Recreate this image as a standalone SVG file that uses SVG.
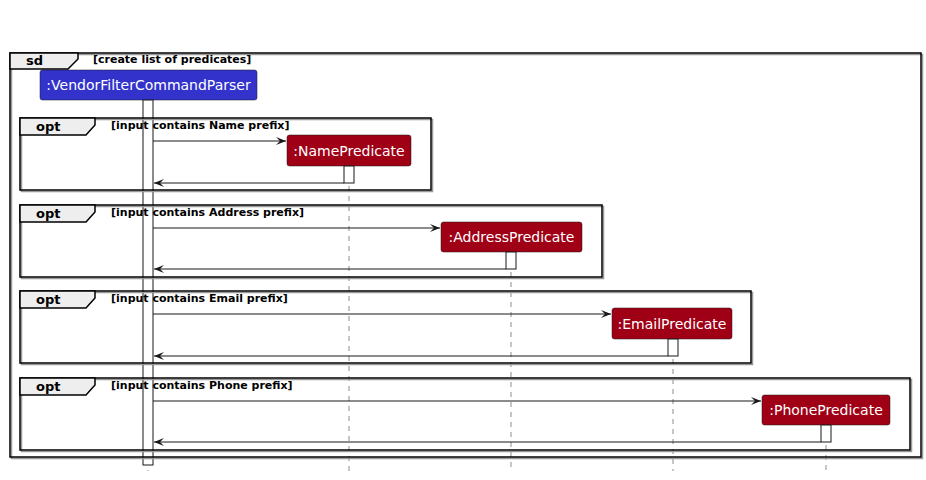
<svg xmlns="http://www.w3.org/2000/svg" width="926" height="480" viewBox="0 0 926 480">
<defs>
<style>
.frame{fill:none;stroke:#000;stroke-width:1.5}
.shadow{fill:none;stroke:#999;stroke-width:1.5}
.tab{fill:#EEEEEE;stroke:#000;stroke-width:1.5}
.tabtxt{font-family:"DejaVu Sans",sans-serif;font-weight:bold;font-size:13px;fill:#000}
.cond{font-family:"DejaVu Sans",sans-serif;font-weight:bold;font-size:11px;fill:#000}
.pbox{stroke:#181818;stroke-width:0.5}
.pred{fill:#A00015}
.main{fill:#3333CC}
.ptxt{font-family:"DejaVu Sans",sans-serif;font-size:14px;fill:#fff;text-anchor:middle}
.life{stroke:#181818;stroke-width:0.5;stroke-dasharray:5,5;fill:none}
.act{fill:#fff;stroke:#181818;stroke-width:1}
.msg{stroke:#181818;stroke-width:1;fill:none}
</style>
<marker id="ah" viewBox="0 0 10 8" refX="10" refY="4" markerWidth="10" markerHeight="8" markerUnits="userSpaceOnUse" orient="auto">
<polygon points="0,0 10,4 0,8 4,4" fill="#181818"/>
</marker>
</defs>
<rect width="926" height="480" fill="#fff"/>

<g id="lifelines">
<line class="life" x1="148" y1="100" x2="148" y2="471"/>
<line class="life" x1="349" y1="166" x2="349" y2="471"/>
<line class="life" x1="511" y1="252" x2="511" y2="471"/>
<line class="life" x1="673" y1="339" x2="673" y2="471"/>
<line class="life" x1="826" y1="425" x2="826" y2="471"/>
</g>

<g id="VendorFilterCommandParser">
<rect class="pbox main" x="40" y="70" width="217" height="30" rx="2.5"/>
<text class="ptxt" x="148.5" y="90">:VendorFilterCommandParser</text>
<rect class="act" x="143" y="100" width="10" height="365"/>
</g>

<g id="sd-frame">
<rect class="shadow" x="11.5" y="54.5" width="911" height="404"/>
<rect class="frame" x="10" y="53" width="911" height="404"/>
<polygon class="tab" points="10,53 78,53 78,59 68,69 10,69"/>
<text class="tabtxt" x="26" y="65">sd</text>
<text class="cond" x="93" y="63">[create list of predicates]</text>
</g>

<g id="opt-name">
<rect class="shadow" x="21.5" y="119.5" width="411" height="72"/>
<rect class="frame" x="20" y="118" width="411" height="72"/>
<polygon class="tab" points="20,118 95,118 95,125 86,135 20,135"/>
<text class="tabtxt" x="36" y="131">opt</text>
<text class="cond" x="111" y="129">[input contains Name prefix]</text>
</g>

<g id="opt-address">
<rect class="shadow" x="21.5" y="206.5" width="582" height="72"/>
<rect class="frame" x="20" y="205" width="582" height="72"/>
<polygon class="tab" points="20,205 95,205 95,212 86,222 20,222"/>
<text class="tabtxt" x="36" y="218">opt</text>
<text class="cond" x="111" y="216">[input contains Address prefix]</text>
</g>

<g id="opt-email">
<rect class="shadow" x="21.5" y="292.5" width="731" height="72"/>
<rect class="frame" x="20" y="291" width="731" height="72"/>
<polygon class="tab" points="20,291 95,291 95,298 86,308 20,308"/>
<text class="tabtxt" x="36" y="304">opt</text>
<text class="cond" x="111" y="302">[input contains Email prefix]</text>
</g>

<g id="opt-phone">
<rect class="shadow" x="21.5" y="379.5" width="890" height="72"/>
<rect class="frame" x="20" y="378" width="890" height="72"/>
<polygon class="tab" points="20,378 95,378 95,385 86,395 20,395"/>
<text class="tabtxt" x="36" y="391">opt</text>
<text class="cond" x="111" y="389">[input contains Phone prefix]</text>
</g>

<g id="NamePredicate">
<rect class="pbox pred" x="287" y="135" width="124" height="31" rx="2.5"/>
<text class="ptxt" x="349" y="156">:NamePredicate</text>
<rect class="act" x="344" y="166" width="10" height="17"/>
</g>

<g id="AddressPredicate">
<rect class="pbox pred" x="441" y="222" width="141" height="30" rx="2.5"/>
<text class="ptxt" x="511.5" y="242">:AddressPredicate</text>
<rect class="act" x="506" y="252" width="10" height="17"/>
</g>

<g id="EmailPredicate">
<rect class="pbox pred" x="612" y="308" width="120" height="31" rx="2.5"/>
<text class="ptxt" x="672" y="329">:EmailPredicate</text>
<rect class="act" x="668" y="339" width="10" height="17"/>
</g>

<g id="PhonePredicate">
<rect class="pbox pred" x="762" y="395" width="128" height="30" rx="2.5"/>
<text class="ptxt" x="826" y="415">:PhonePredicate</text>
<rect class="act" x="821" y="425" width="10" height="17"/>
</g>

<g id="connectors">
<line class="msg" x1="153" y1="141" x2="286" y2="141" marker-end="url(#ah)"/>
<line class="msg" x1="344" y1="183" x2="154" y2="183" marker-end="url(#ah)"/>
<line class="msg" x1="153" y1="228" x2="440" y2="228" marker-end="url(#ah)"/>
<line class="msg" x1="506" y1="269" x2="154" y2="269" marker-end="url(#ah)"/>
<line class="msg" x1="153" y1="314" x2="611" y2="314" marker-end="url(#ah)"/>
<line class="msg" x1="668" y1="356" x2="154" y2="356" marker-end="url(#ah)"/>
<line class="msg" x1="153" y1="401" x2="761" y2="401" marker-end="url(#ah)"/>
<line class="msg" x1="821" y1="442" x2="154" y2="442" marker-end="url(#ah)"/>
</g>
</svg>
